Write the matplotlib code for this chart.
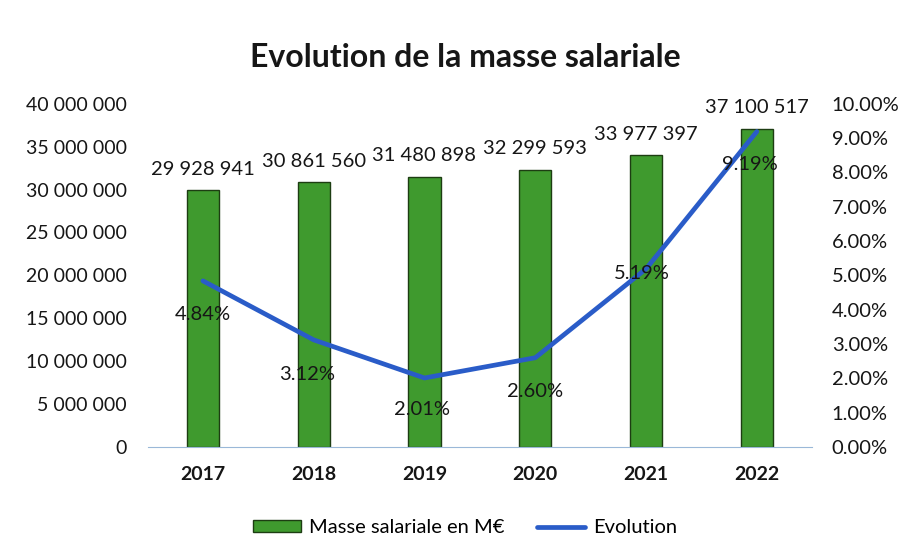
"""Evolution de la masse salariale: bars (left axis) + growth line (right axis)."""
import matplotlib

matplotlib.use("Agg")
import matplotlib.pyplot as plt
from matplotlib.ticker import FuncFormatter, PercentFormatter

plt.rcParams["font.family"] = ["Lato", "DejaVu Sans"]

years = ["2017", "2018", "2019", "2020", "2021", "2022"]
masse = [29928941, 30861560, 31480898, 32299593, 33977397, 37100517]
evolution = [4.84, 3.12, 2.01, 2.60, 5.19, 9.19]  # in %

# label offsets (points) for the percentage labels, relative to each point
pct_offsets = [(0, -24), (-5, -25), (-2, -23), (0, -24), (-3, -3), (-5, -24)]

TXT = "#161616"


def spaced(v, _=None):
    return f"{int(v):,}".replace(",", " ")


fig = plt.figure(figsize=(9.08, 5.58), dpi=100)
ax = fig.add_axes([0.1625, 0.199, 0.732, 0.615])
x = list(range(len(years)))

bars = ax.bar(x, masse, width=0.29, color="#3f9a2e", edgecolor="#1d3d12",
              linewidth=1.0, label="Masse salariale en M€", zorder=2)
for xi, v in zip(x, masse):
    ax.annotate(spaced(v), (xi, v), xytext=(0, 9), textcoords="offset points",
                ha="center", va="bottom", fontsize=14.5, color=TXT)

ax.set_xlim(-0.5, len(years) - 0.5)
ax.set_ylim(0, 40_000_000)
ax.set_yticks(range(0, 40_000_001, 5_000_000))
ax.yaxis.set_major_formatter(FuncFormatter(spaced))
ax.set_xticks(x)
ax.set_xticklabels(years, fontsize=14, fontweight="bold", color=TXT)
ax.tick_params(axis="y", length=0, pad=15, labelsize=14, labelcolor=TXT)
ax.tick_params(axis="x", length=0, pad=14)
for s in ["top", "left", "right"]:
    ax.spines[s].set_visible(False)
ax.spines["bottom"].set_color("#9ab8d8")

ax2 = ax.twinx()
line, = ax2.plot(x, evolution, color="#2a5cc8", linewidth=3.4,
                 solid_capstyle="round", label="Evolution", zorder=3)
ax2.set_ylim(0, 10)
ax2.set_yticks(range(0, 11))
ax2.yaxis.set_major_formatter(PercentFormatter(decimals=2))
ax2.tick_params(axis="y", length=0, pad=14, labelsize=14.5, labelcolor=TXT)
for s in ["top", "left", "right", "bottom"]:
    ax2.spines[s].set_visible(False)
for xi, v, off in zip(x, evolution, pct_offsets):
    ax2.annotate(f"{v:.2f}%", (xi, v), xytext=off, textcoords="offset points",
                 ha="center", va="center", fontsize=14.5, color=TXT)

fig.text(0.512, 0.897, "Evolution de la masse salariale", ha="center",
         va="center", fontsize=23, fontweight="bold", color=TXT)

fig.legend([bars, line], ["Masse salariale en M€", "Evolution"],
           loc="center", bbox_to_anchor=(0.512, 0.054), ncol=2, frameon=False,
           fontsize=14.5, handlelength=2.4, handleheight=0.5,
           columnspacing=1.6, handletextpad=0.4)

fig.savefig("out.png", dpi=100)
